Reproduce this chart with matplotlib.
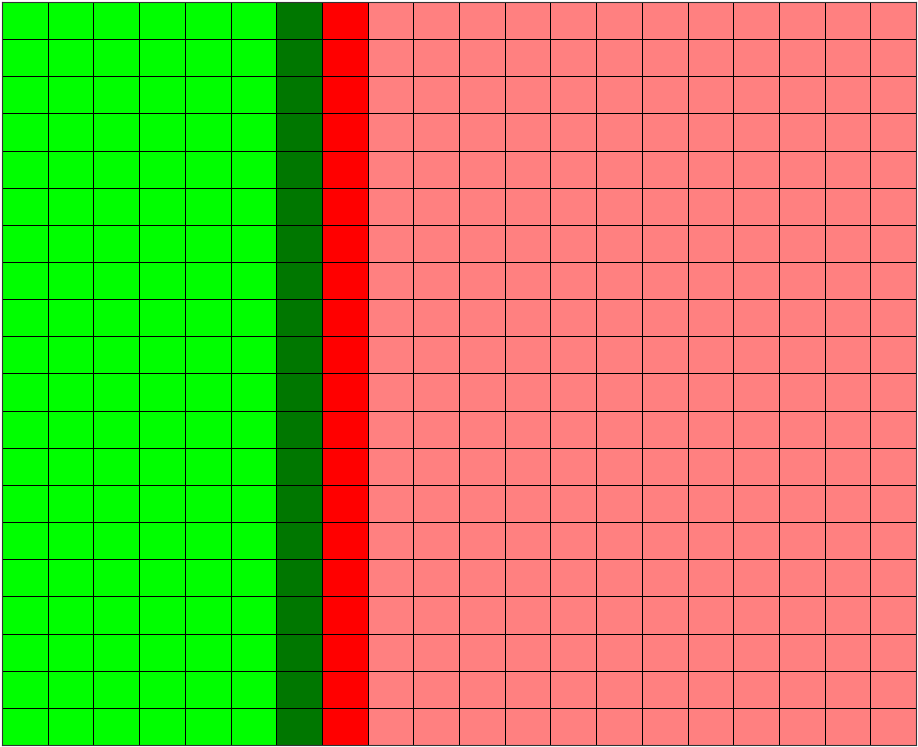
import numpy as np
import matplotlib.pyplot as plt
from matplotlib.colors import ListedColormap

# columns per category, and colour of each category
categories = ['bright green', 'dark green', 'red', 'light red']
column_counts = [6, 1, 1, 12]
colors = ['#00ff00', '#007700', '#ff0000', '#ff8080']
n_rows = 20

cols = np.repeat(np.arange(len(categories)), column_counts)
grid = np.tile(cols, (n_rows, 1))

fig = plt.figure(figsize=(9.18, 7.47), dpi=100)
ax = fig.add_axes([2 / 918, 2 / 747, 914 / 918, 743 / 747])
ax.pcolormesh(grid, cmap=ListedColormap(colors), vmin=-0.5, vmax=len(categories) - 0.5,
              edgecolors='black', linewidth=0.5)
ax.set_xlim(0, grid.shape[1])
ax.set_ylim(0, n_rows)
ax.set_xticks([])
ax.set_yticks([])
for s in ax.spines.values():
    s.set_linewidth(0.8)
    s.set_edgecolor('#333333')

fig.savefig('out.png', dpi=100)
